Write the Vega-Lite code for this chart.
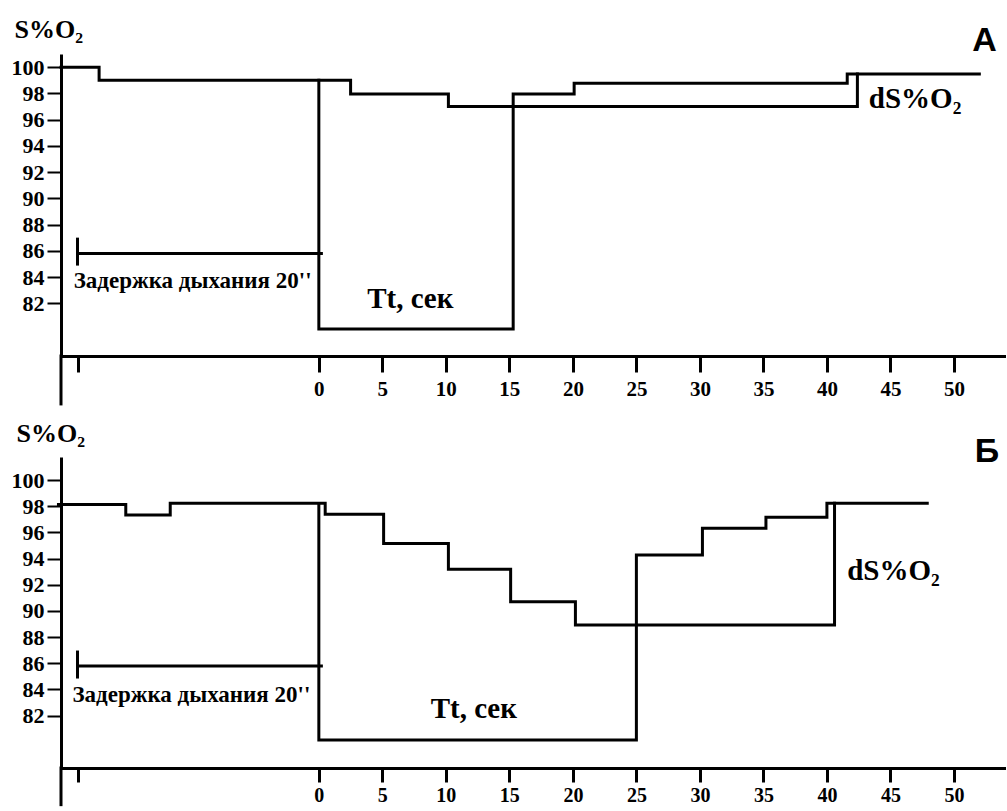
{
  "$schema": "https://vega.github.io/schema/vega-lite/v6.json",
  "background": "white",
  "padding": {"left": 11, "top": 16, "right": 0, "bottom": 0},
  "spacing": 101,
  "bounds": "flush",
  "config": {
    "view": {"stroke": null},
    "font": "Liberation Serif",
    "text": {"font": "Liberation Serif"},
    "axis": {
      "grid": false,
      "domainColor": "black",
      "domainWidth": 3,
      "tickColor": "black",
      "labelColor": "black",
      "labelFont": "Liberation Serif",
      "labelFontWeight": "bold",
      "labelFontSize": 22,
      "titleFont": "Liberation Serif",
      "titleFontWeight": "bold",
      "titleColor": "black"
    }
  },
  "datasets": {
    "linesA": [
      {"series": "main", "i": 1, "t": -20.3, "s": 100},
      {"series": "main", "i": 2, "t": -17.3, "s": 100},
      {"series": "main", "i": 3, "t": -17.3, "s": 99.0},
      {"series": "main", "i": 4, "t": 2.5, "s": 99.0},
      {"series": "main", "i": 5, "t": 2.5, "s": 97.95},
      {"series": "main", "i": 6, "t": 10.2, "s": 97.95},
      {"series": "main", "i": 7, "t": 10.2, "s": 97.0},
      {"series": "main", "i": 8, "t": 42.4, "s": 97.0},
      {"series": "main", "i": 9, "t": 42.4, "s": 99.47},
      {"series": "rec", "i": 1, "t": 0, "s": 99.0},
      {"series": "rec", "i": 2, "t": 0, "s": 80.06},
      {"series": "rec", "i": 3, "t": 15.3, "s": 80.06},
      {"series": "rec", "i": 4, "t": 15.3, "s": 97.95},
      {"series": "rec", "i": 5, "t": 20.1, "s": 97.95},
      {"series": "rec", "i": 6, "t": 20.1, "s": 98.78},
      {"series": "rec", "i": 7, "t": 41.6, "s": 98.78},
      {"series": "rec", "i": 8, "t": 41.6, "s": 99.47},
      {"series": "rec", "i": 9, "t": 52.0, "s": 99.47},
      {"series": "brk", "i": 1, "t": -19, "s": 85.8},
      {"series": "brk", "i": 2, "t": 0.2, "s": 85.8},
      {"series": "brkTick", "i": 1, "t": -19, "s": 86.9},
      {"series": "brkTick", "i": 2, "t": -19, "s": 85.0},
      {"series": "axisExt", "i": 1, "t": -20.3, "s": 78},
      {"series": "axisExt", "i": 2, "t": -20.3, "s": 74.35}
    ],
    "linesB": [
      {"series": "main", "i": 1, "t": -20.5, "s": 98.14},
      {"series": "main", "i": 2, "t": -15.2, "s": 98.14},
      {"series": "main", "i": 3, "t": -15.2, "s": 97.33},
      {"series": "main", "i": 4, "t": -11.7, "s": 97.33},
      {"series": "main", "i": 5, "t": -11.7, "s": 98.22},
      {"series": "main", "i": 6, "t": 0.5, "s": 98.22},
      {"series": "main", "i": 7, "t": 0.5, "s": 97.38},
      {"series": "main", "i": 8, "t": 5.1, "s": 97.38},
      {"series": "main", "i": 9, "t": 5.1, "s": 95.16},
      {"series": "main", "i": 10, "t": 10.2, "s": 95.16},
      {"series": "main", "i": 11, "t": 10.2, "s": 93.18},
      {"series": "main", "i": 12, "t": 15.1, "s": 93.18},
      {"series": "main", "i": 13, "t": 15.1, "s": 90.7},
      {"series": "main", "i": 14, "t": 20.2, "s": 90.7},
      {"series": "main", "i": 15, "t": 20.2, "s": 88.92},
      {"series": "main", "i": 16, "t": 40.6, "s": 88.92},
      {"series": "main", "i": 17, "t": 40.6, "s": 98.22},
      {"series": "rec", "i": 1, "t": 0, "s": 98.14},
      {"series": "rec", "i": 2, "t": 0, "s": 80.14},
      {"series": "rec", "i": 3, "t": 25.0, "s": 80.14},
      {"series": "rec", "i": 4, "t": 25.0, "s": 94.27},
      {"series": "rec", "i": 5, "t": 30.2, "s": 94.27},
      {"series": "rec", "i": 6, "t": 30.2, "s": 96.31},
      {"series": "rec", "i": 7, "t": 35.2, "s": 96.31},
      {"series": "rec", "i": 8, "t": 35.2, "s": 97.15},
      {"series": "rec", "i": 9, "t": 40.0, "s": 97.15},
      {"series": "rec", "i": 10, "t": 40.0, "s": 98.22},
      {"series": "rec", "i": 11, "t": 47.9, "s": 98.22},
      {"series": "brk", "i": 1, "t": -19, "s": 85.79},
      {"series": "brk", "i": 2, "t": 0.2, "s": 85.79},
      {"series": "brkTick", "i": 1, "t": -19, "s": 86.86},
      {"series": "brkTick", "i": 2, "t": -19, "s": 84.95},
      {"series": "axisExt", "i": 1, "t": -20.3, "s": 78},
      {"series": "axisExt", "i": 2, "t": -20.3, "s": 75.2}
    ],
    "textA": [
      {"kind": "hold", "label": "Задержка дыхания 20''", "t": -19.3, "s": 83.18},
      {"kind": "tt", "label": "Tt, сек", "t": 7.2, "s": 81.66},
      {"kind": "ds", "label": "dS%O₂", "t": 43.3, "s": 96.88},
      {"kind": "panel", "label": "А", "t": 52.4, "s": 101.22}
    ],
    "textB": [
      {"kind": "hold", "label": "Задержка дыхания 20''", "t": -19.4, "s": 83.04},
      {"kind": "tt", "label": "Tt, сек", "t": 12.2, "s": 81.82},
      {"kind": "ds", "label": "dS%O₂", "t": 41.6, "s": 92.36},
      {"kind": "panel", "label": "Б", "t": 52.6, "s": 101.37}
    ]
  },
  "vconcat": [
    {
      "width": 945,
      "height": 302,
      "encoding": {
        "x": {"field": "t", "type": "quantitative",
          "scale": {"domain": [-20.3, 54.1], "nice": false, "zero": false},
          "axis": {"title": null, "values": [-19, 0, 5, 10, 15, 20, 25, 30, 35, 40, 45, 50],
            "labelExpr": "datum.value < -1 ? '' : datum.label", "tickSize": 16, "tickWidth": 3, "labelPadding": 6, "labelFontSize": 21}},
        "y": {"field": "s", "type": "quantitative",
          "scale": {"domain": [78, 101], "nice": false, "zero": false},
          "axis": {"title": "S%O₂", "titleAngle": 0, "titleAlign": "left", "titleBaseline": "alphabetic",
            "titleX": -47, "titleY": -17, "titleFontSize": 26,
            "values": [82, 84, 86, 88, 90, 92, 94, 96, 98, 100], "tickSize": 14, "tickWidth": 2, "labelPadding": 3}}
      },
      "layer": [
        {"data": {"name": "linesA"},
          "mark": {"type": "line", "color": "black", "strokeWidth": 3, "strokeCap": "square"},
          "encoding": {"detail": {"field": "series"}, "order": {"field": "i"}}},
        {"data": {"name": "textA"}, "transform": [{"filter": "datum.kind == 'hold'"}],
          "mark": {"type": "text", "align": "left", "baseline": "alphabetic", "fontSize": 23, "fontWeight": "bold", "font": "Liberation Serif", "color": "black"},
          "encoding": {"text": {"field": "label"}}},
        {"data": {"name": "textA"}, "transform": [{"filter": "datum.kind == 'tt'"}],
          "mark": {"type": "text", "align": "center", "baseline": "alphabetic", "fontSize": 29, "fontWeight": "bold", "font": "Liberation Serif", "color": "black"},
          "encoding": {"text": {"field": "label"}}},
        {"data": {"name": "textA"}, "transform": [{"filter": "datum.kind == 'ds'"}],
          "mark": {"type": "text", "align": "left", "baseline": "alphabetic", "fontSize": 29, "fontWeight": "bold", "font": "Liberation Serif", "color": "black"},
          "encoding": {"text": {"field": "label"}}},
        {"data": {"name": "textA"}, "transform": [{"filter": "datum.kind == 'panel'"}],
          "mark": {"type": "text", "align": "center", "baseline": "alphabetic", "fontSize": 34, "fontWeight": "bold", "font": "Liberation Sans", "color": "black"},
          "encoding": {"text": {"field": "label"}}}
      ]
    },
    {
      "width": 945,
      "height": 311,
      "encoding": {
        "x": {"field": "t", "type": "quantitative",
          "scale": {"domain": [-20.3, 54.1], "nice": false, "zero": false},
          "axis": {"title": null, "values": [-19, 0, 5, 10, 15, 20, 25, 30, 35, 40, 45, 50],
            "labelExpr": "datum.value < -1 ? '' : datum.label", "tickSize": 14, "tickWidth": 3, "labelPadding": 3, "labelFontSize": 20}},
        "y": {"field": "s", "type": "quantitative",
          "scale": {"domain": [78, 101.76], "nice": false, "zero": false},
          "axis": {"title": "S%O₂", "titleAngle": 0, "titleAlign": "left", "titleBaseline": "alphabetic",
            "titleX": -45, "titleY": -16, "titleFontSize": 26,
            "values": [82, 84, 86, 88, 90, 92, 94, 96, 98, 100], "tickSize": 14, "tickWidth": 2, "labelPadding": 3}}
      },
      "layer": [
        {"data": {"name": "linesB"},
          "mark": {"type": "line", "color": "black", "strokeWidth": 3, "strokeCap": "square"},
          "encoding": {"detail": {"field": "series"}, "order": {"field": "i"}}},
        {"data": {"name": "textB"}, "transform": [{"filter": "datum.kind == 'hold'"}],
          "mark": {"type": "text", "align": "left", "baseline": "alphabetic", "fontSize": 23, "fontWeight": "bold", "font": "Liberation Serif", "color": "black"},
          "encoding": {"text": {"field": "label"}}},
        {"data": {"name": "textB"}, "transform": [{"filter": "datum.kind == 'tt'"}],
          "mark": {"type": "text", "align": "center", "baseline": "alphabetic", "fontSize": 29, "fontWeight": "bold", "font": "Liberation Serif", "color": "black"},
          "encoding": {"text": {"field": "label"}}},
        {"data": {"name": "textB"}, "transform": [{"filter": "datum.kind == 'ds'"}],
          "mark": {"type": "text", "align": "left", "baseline": "alphabetic", "fontSize": 29, "fontWeight": "bold", "font": "Liberation Serif", "color": "black"},
          "encoding": {"text": {"field": "label"}}},
        {"data": {"name": "textB"}, "transform": [{"filter": "datum.kind == 'panel'"}],
          "mark": {"type": "text", "align": "center", "baseline": "alphabetic", "fontSize": 34, "fontWeight": "bold", "font": "Liberation Sans", "color": "black"},
          "encoding": {"text": {"field": "label"}}}
      ]
    }
  ]
}
